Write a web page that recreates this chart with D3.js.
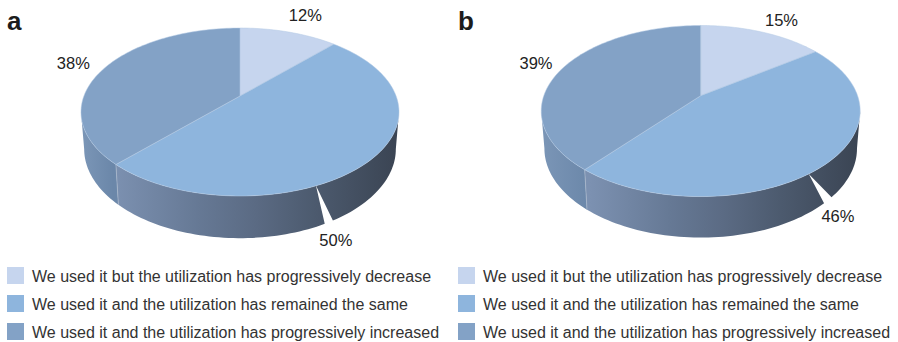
<!DOCTYPE html>
<html>
<head>
<meta charset="utf-8">
<script src="https://cdn.jsdelivr.net/npm/d3@7/dist/d3.min.js"></script>
<style>
  html, body { margin: 0; padding: 0; background: #fff; }
  svg { display: block; }
  text { font-family: "Liberation Sans", Arial, sans-serif; }
</style>
</head>
<body>
<svg id="chart" width="898" height="342"></svg>
<script>
// Survey answers, in the order they run clockwise from twelve o'clock
const categories = [
  "We used it but the utilization has progressively decrease",
  "We used it and the utilization has remained the same",
  "We used it and the utilization has progressively increased"
];
const panelNames = ["a", "b"];
const valuesA = [12, 50, 38];
const valuesB = [15, 46, 39];
const topColors = ["#c6d5ee", "#8eb5dd", "#83a2c6"];

// Perspective disc for each panel: hub position, radii, foreshortening, thickness
const panelShapes = [
  { cx: 240, cy: 96, a: 156.1, b: 80.95, p: 0.1905, drop: 36, growth: 5, shrink: 0.98,
    titleX: 7, legendX: 7,
    notch: { top: 156.3, left: 152.6, right: 149.5 },
    labelOffsets: [[16.5, -11], [-35, 86], [-31, 1]],
    frontStops: [113, 395] },
  { cx: 700.7, cy: 95.7, a: 156.9, b: 82.8, p: 0.179, drop: 37, growth: 3.3, shrink: 0.98,
    titleX: 458, legendX: 458,
    notch: { top: 143.9, left: 135.6, right: 131.4 },
    labelOffsets: [[19.4, -6.1], [13.7, 56.9], [-25.5, -0.2]],
    frontStops: [590, 856] }
];

const svg = d3.select("#chart");
const defs = svg.append("defs");
const rad = Math.PI / 180;
const pie = d3.pie().sort(null).value(d => d);
const line = d3.line();

// Projects a rim angle (degrees clockwise from top) onto the upper or lower face
function rim(shape, deg, lower) {
  const u = Math.sin(deg * rad), v = -Math.cos(deg * rad), w = 1 - shape.p * v;
  if (!lower) return [shape.cx + shape.a * u / w, shape.cy + shape.b * v / w];
  return [
    shape.cx + shape.a * shape.shrink * u / w,
    shape.cy + shape.drop + (shape.b + shape.growth) * v / w
  ];
}

// Rim points between two angles
function arcPoints(shape, from, to, lower) {
  const n = Math.max(2, Math.ceil(Math.abs(to - from) / 1.5));
  return d3.range(n + 1).map(i => rim(shape, from + (to - from) * i / n, lower));
}

// A closed wall section with separate angle spans on the upper and lower rim
function wall(shape, topFrom, topTo, lowFrom, lowTo) {
  const pts = arcPoints(shape, topFrom, topTo, false)
    .concat(arcPoints(shape, lowTo, lowFrom, true));
  return line(pts) + "Z";
}

function drawPanel(values, shape, index) {
  const g = svg.append("g");
  const arcs = pie(values).map(d => ({
    start: d.startAngle / rad, end: d.endAngle / rad, value: d.data, index: d.index
  }));

  // The rim is visible between the two points of widest extent
  const wallStart = Math.acos(-shape.p) / rad;
  const wallEnd = 360 - wallStart;

  const gradFront = defs.append("linearGradient")
    .attr("id", "front" + index)
    .attr("gradientUnits", "userSpaceOnUse")
    .attr("x1", shape.frontStops[0]).attr("x2", shape.frontStops[1])
    .attr("y1", 0).attr("y2", 0);
  [[0, "#7c91b1"], [0.3, "#667995"], [0.5, "#5b6b84"], [0.72, "#4c5a6e"], [1, "#3b4554"]]
    .forEach(s => gradFront.append("stop").attr("offset", s[0]).attr("stop-color", s[1]));

  const gradLeft = defs.append("linearGradient")
    .attr("id", "left" + index)
    .attr("gradientUnits", "userSpaceOnUse")
    .attr("x1", shape.cx - shape.a).attr("x2", shape.frontStops[0])
    .attr("y1", 0).attr("y2", 0);
  [[0, "#7a95b6"], [1, "#6b87a9"]]
    .forEach(s => gradLeft.append("stop").attr("offset", s[0]).attr("stop-color", s[1]));

  // Side wall: the middle slice carries the split, the last slice runs round the left
  const mid = arcs[1], last = arcs[2];
  g.append("path")
    .attr("d", wall(shape, last.start, wallEnd, last.start, wallEnd))
    .attr("fill", `url(#left${index})`);
  g.append("path")
    .attr("d", wall(shape, shape.notch.top, mid.end, shape.notch.left, mid.end))
    .attr("fill", `url(#front${index})`);
  g.append("path")
    .attr("d", wall(shape, wallStart, shape.notch.top, wallStart, shape.notch.right))
    .attr("fill", `url(#front${index})`);
  g.append("path")
    .attr("d", line([rim(shape, mid.end, false), rim(shape, mid.end, true)]))
    .attr("stroke", "#a9b8cc").attr("stroke-width", 0.7).attr("fill", "none");

  // Upper face
  g.selectAll("path.slice")
    .data(arcs)
    .join("path")
    .attr("class", "slice")
    .attr("d", d => line([[shape.cx, shape.cy]].concat(arcPoints(shape, d.start, d.end, false))) + "Z")
    .attr("fill", d => topColors[d.index])
    .attr("stroke", "#b4cbe4")
    .attr("stroke-width", 0.5)
    .attr("stroke-linejoin", "round");

  // Percentage labels sit off each slice's outer midpoint
  g.selectAll("text.pct")
    .data(arcs)
    .join("text")
    .attr("class", "pct")
    .attr("x", d => rim(shape, (d.start + d.end) / 2, false)[0] + shape.labelOffsets[d.index][0])
    .attr("y", d => rim(shape, (d.start + d.end) / 2, false)[1] + shape.labelOffsets[d.index][1])
    .attr("text-anchor", "middle")
    .attr("font-size", 16.5)
    .attr("fill", "#222")
    .text(d => d.value + "%");

  // Panel letter
  g.append("text")
    .attr("x", shape.titleX)
    .attr("y", 30)
    .attr("font-size", 26)
    .attr("font-weight", "bold")
    .attr("fill", "#1c1c1c")
    .text(panelNames[index]);

  // Legend
  const rows = d3.scalePoint().domain(categories).range([267, 323]);
  const item = g.selectAll("g.legend")
    .data(categories)
    .join("g")
    .attr("class", "legend")
    .attr("transform", d => `translate(${shape.legendX},${rows(d)})`);
  item.append("rect")
    .attr("width", 17).attr("height", 17)
    .attr("fill", (d, i) => topColors[i]);
  item.append("text")
    .attr("x", 25)
    .attr("y", 14.5)
    .attr("font-size", 16)
    .attr("fill", "#333")
    .text(d => d);
}

drawPanel(valuesA, panelShapes[0], 0);
drawPanel(valuesB, panelShapes[1], 1);
</script>
</body>
</html>
